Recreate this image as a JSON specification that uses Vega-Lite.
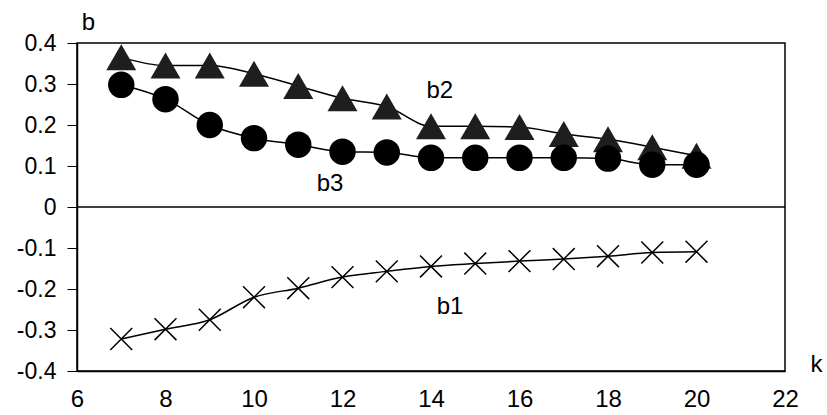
{
  "$schema": "https://vega.github.io/schema/vega-lite/v6.json",
  "width": 708,
  "height": 328,
  "autosize": "none",
  "padding": {"left": 77, "top": 43, "right": 42, "bottom": 44},
  "background": "white",
  "config": {
    "view": {"stroke": "black", "strokeWidth": 1.5},
    "font": "Liberation Sans",
    "axis": {"grid": false, "labelFlush": false, "domainColor": "black", "domainWidth": 1.5, "tickColor": "black", "labelColor": "black", "labelFont": "Liberation Sans", "labelFontSize": 23, "titleFont": "Liberation Sans", "titleFontSize": 24, "titleFontWeight": "normal", "titleColor": "black"}
  },
  "datasets": {
    "pts": [
      {"k": 7, "b": -0.322, "s": "b1"}, {"k": 8, "b": -0.298, "s": "b1"}, {"k": 9, "b": -0.275, "s": "b1"}, {"k": 10, "b": -0.22, "s": "b1"}, {"k": 11, "b": -0.198, "s": "b1"}, {"k": 12, "b": -0.171, "s": "b1"}, {"k": 13, "b": -0.157, "s": "b1"}, {"k": 14, "b": -0.145, "s": "b1"}, {"k": 15, "b": -0.138, "s": "b1"}, {"k": 16, "b": -0.132, "s": "b1"}, {"k": 17, "b": -0.127, "s": "b1"}, {"k": 18, "b": -0.12, "s": "b1"}, {"k": 19, "b": -0.111, "s": "b1"}, {"k": 20, "b": -0.109, "s": "b1"},
      {"k": 7, "b": 0.365, "s": "b2"}, {"k": 8, "b": 0.345, "s": "b2"}, {"k": 9, "b": 0.345, "s": "b2"}, {"k": 10, "b": 0.325, "s": "b2"}, {"k": 11, "b": 0.295, "s": "b2"}, {"k": 12, "b": 0.265, "s": "b2"}, {"k": 13, "b": 0.245, "s": "b2"}, {"k": 14, "b": 0.197, "s": "b2"}, {"k": 15, "b": 0.197, "s": "b2"}, {"k": 16, "b": 0.195, "s": "b2"}, {"k": 17, "b": 0.178, "s": "b2"}, {"k": 18, "b": 0.165, "s": "b2"}, {"k": 19, "b": 0.146, "s": "b2"}, {"k": 20, "b": 0.125, "s": "b2"},
      {"k": 7, "b": 0.298, "s": "b3"}, {"k": 8, "b": 0.263, "s": "b3"}, {"k": 9, "b": 0.2, "s": "b3"}, {"k": 10, "b": 0.168, "s": "b3"}, {"k": 11, "b": 0.152, "s": "b3"}, {"k": 12, "b": 0.135, "s": "b3"}, {"k": 13, "b": 0.133, "s": "b3"}, {"k": 14, "b": 0.12, "s": "b3"}, {"k": 15, "b": 0.12, "s": "b3"}, {"k": 16, "b": 0.12, "s": "b3"}, {"k": 17, "b": 0.12, "s": "b3"}, {"k": 18, "b": 0.118, "s": "b3"}, {"k": 19, "b": 0.103, "s": "b3"}, {"k": 20, "b": 0.103, "s": "b3"}
    ],
    "labels": [
      {"k": 14.2, "b": 0.283, "t": "b2"},
      {"k": 11.72, "b": 0.056, "t": "b3"},
      {"k": 14.43, "b": -0.244, "t": "b1"}
    ]
  },
  "layer": [
    {
      "data": {"values": [{"z": 0}]},
      "mark": {"type": "rule", "color": "black", "strokeWidth": 1.5},
      "encoding": {
        "y": {"field": "z", "type": "quantitative", "scale": {"domain": [-0.4, 0.4], "nice": false},
          "axis": {"title": "b", "titleAngle": 0, "titleX": 11, "titleY": -21, "titleAlign": "center", "titleBaseline": "middle", "values": [-0.4, -0.3, -0.2, -0.1, 0, 0.1, 0.2, 0.3, 0.4], "tickSize": 10, "labelPadding": 11, "labelExpr": "toString(round(datum.value*10)/10)"}}
      }
    },
    {
      "data": {"name": "pts"},
      "mark": {"type": "line", "color": "black", "strokeWidth": 1.5, "interpolate": "monotone"},
      "encoding": {
        "x": {"field": "k", "type": "quantitative", "scale": {"domain": [6, 22], "nice": false},
          "axis": {"title": "k", "titleX": 739, "titleY": -7, "titleAlign": "center", "titleBaseline": "middle", "values": [6, 8, 10, 12, 14, 16, 18, 20, 22], "tickSize": 0, "labelPadding": 16, "labelFontSize": 24}},
        "y": {"field": "b", "type": "quantitative"},
        "detail": {"field": "s"}
      }
    },
    {
      "data": {"name": "pts"},
      "transform": [{"filter": "datum.s == 'b2'"}],
      "mark": {"type": "point", "shape": "triangle-up", "filled": true, "color": "#1e1e1e", "opacity": 1, "size": 900},
      "encoding": {"x": {"field": "k", "type": "quantitative"}, "y": {"field": "b", "type": "quantitative"}}
    },
    {
      "data": {"name": "pts"},
      "transform": [{"filter": "datum.s == 'b3'"}],
      "mark": {"type": "point", "shape": "circle", "filled": true, "color": "black", "opacity": 1, "size": 700},
      "encoding": {"x": {"field": "k", "type": "quantitative"}, "y": {"field": "b", "type": "quantitative"}}
    },
    {
      "data": {"name": "pts"},
      "transform": [{"filter": "datum.s == 'b1'"}],
      "mark": {"type": "point", "shape": "M-1,-1L1,1M-1,1L1,-1", "filled": false, "color": "black", "opacity": 1, "strokeWidth": 1.5, "size": 480},
      "encoding": {"x": {"field": "k", "type": "quantitative"}, "y": {"field": "b", "type": "quantitative"}}
    },
    {
      "data": {"name": "labels"},
      "mark": {"type": "text", "fontSize": 24, "color": "black", "align": "center", "baseline": "middle", "font": "Liberation Sans"},
      "encoding": {"x": {"field": "k", "type": "quantitative"}, "y": {"field": "b", "type": "quantitative"}, "text": {"field": "t"}}
    }
  ]
}
